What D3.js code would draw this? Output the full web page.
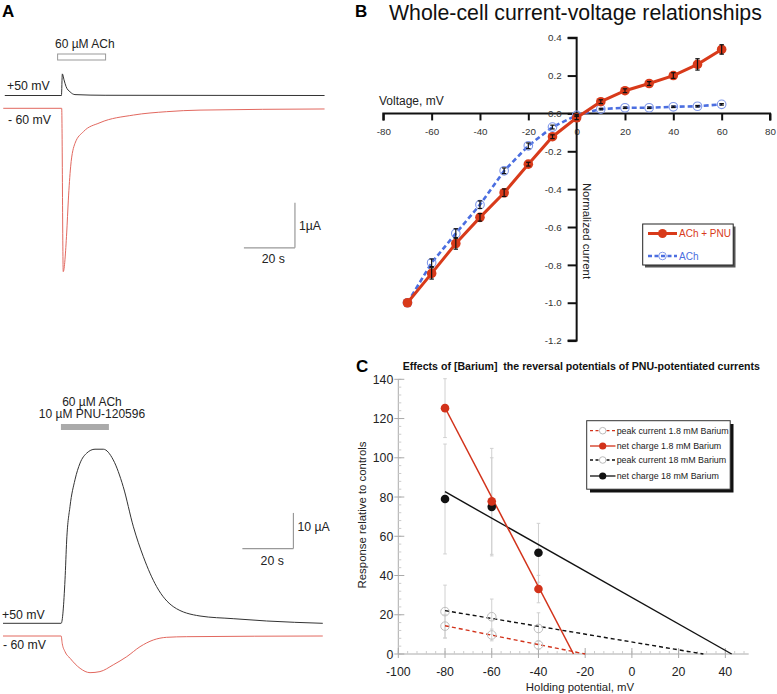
<!DOCTYPE html>
<html>
<head>
<meta charset="utf-8">
<script src="https://cdn.jsdelivr.net/npm/d3@7"></script>
<style>
  body { margin: 0; background: #fff; }
  text { font-family: "Liberation Sans", Arial, sans-serif; }
</style>
</head>
<body>
<script>
// ---- panel A traces: [time s, current µA relative to baseline]
const A1_POS50 = [[0.7, 0], [22.9, 0], [23.25, 0.48], [23.9, 0.35], [24.7, 0.2], [26.3, 0.08], [28.2, 0.02], [40, 0.005], [126, 0]];
const A1_NEG60 = [[0.1, 0], [23.0, 0], [23.6, -3.63], [24.96, -2.77], [25.6, -2.04], [26.5, -1.3], [28.2, -0.78], [31.5, -0.52], [38.0, -0.32], [51.1, -0.15], [64.1, -0.075], [77.2, -0.04], [126, -0.015]];
const A2_POS50 = [[0, 0], [22.8, 0], [24.3, 12.2], [24.96, 23.4], [26.25, 32.8], [28.2, 40.3], [30.2, 45.0], [32.8, 47.8], [36.05, 48.9], [39.3, 48.9], [43.2, 45.9], [47.1, 38.4], [51.1, 27.1], [55.0, 18.7], [60.2, 10.3], [66.7, 4.7], [77.2, 2.05], [90.2, 1.3], [103.3, 0.65], [125.3, 0]];
const A2_NEG60 = [[0, 0], [22.8, 0], [23.2, -2.06], [24.3, -4.4], [26.3, -6.27], [30.2, -9.08], [34.1, -10.3], [38.0, -10.0], [43.2, -8.1], [48.5, -5.8], [53.7, -3.0], [58.9, -1.12], [64.1, -0.37], [72.0, -0.19], [125.3, 0]];
const A1_DRUG = [21.4, 40.2];
const A2_DRUG = [22.7, 41.5];

// ---- panel B: I-V relationships
const IV_VOLTAGE = [-70, -60, -50, -40, -30, -20, -10, 0, 10, 20, 30, 40, 50, 60];
const IV_PNU = [-1.0, -0.845, -0.687, -0.549, -0.419, -0.268, -0.123, -0.023, 0.062, 0.12, 0.158, 0.2, 0.259, 0.338];
const IV_PNU_ERR = [0, 0.03, 0.03, 0.02, 0.02, 0.01, 0.01, 0.01, 0.01, 0.01, 0.01, 0.015, 0.03, 0.025];
const IV_ACH = [-1.0, -0.789, -0.634, -0.482, -0.303, -0.171, -0.072, -0.01, 0.023, 0.03, 0.03, 0.035, 0.038, 0.048];
const IV_ACH_ERR = [0, 0.02, 0.025, 0.02, 0.015, 0.015, 0.01, 0.005, 0.004, 0.004, 0.004, 0.004, 0.004, 0.004];
const B_X_TICKS = [-80, -60, -40, -20, 0, 20, 40, 60, 80];
const B_Y_TICKS = [0.4, 0.2, 0.0, -0.2, -0.4, -0.6, -0.8, -1.0, -1.2];

// ---- panel C: barium
const C_VOLTAGE = [-80, -60, -40];
const PEAK_1_8 = [14.2, 9.7, 4.6];
const PEAK_1_8_ERR = [6, 3, 2];
const NET_1_8 = [125.3, 77.8, 33.1];
const NET_1_8_ERR = [15, 27, 7];
const PEAK_18 = [21.6, 19, 13];
const PEAK_18_ERR = [13.5, 9, 8];
const NET_18 = [79, 75, 51.6];
const NET_18_ERR = [28, 25, 15];
const FIT_PEAK_1_8 = [[-80, 14.4], [-20, 0]];
const FIT_NET_1_8 = [[-80, 125.5], [-25, 0]];
const FIT_PEAK_18 = [[-80, 22.1], [30.6, 0]];
const FIT_NET_18 = [[-80, 82.7], [42.7, 0]];
const C_X_TICKS = [-100, -80, -60, -40, -20, 0, 20, 40];
const C_Y_TICKS = [0, 20, 40, 60, 80, 100, 120, 140];

const RED_A = "#e2685f";
const RED_B = "#d83a1a";
const BLUE_B = "#4b6ee0";
const RED_C = "#d2321a";

const SVG = d3.select("body").append("svg").attr("width", 777).attr("height", 694);

// ================= panel A =================
const T_SCALE = d3.scaleLinear().domain([0, 125]).range([3, 322]);
const yTrace = (base, pxPerUnit) => d3.scaleLinear().domain([0, 1]).range([base, base - pxPerUnit]);
const traceLine = (ys) => d3.line().x((d) => T_SCALE(d[0])).y((d) => ys(d[1])).curve(d3.curveMonotoneX);

SVG.append("text").attr("x", 2).attr("y", 17).attr("font-size", 17).attr("font-weight", "bold").text("A");

// top recording
const Y_A1_POS = yTrace(95.5, 45);
const Y_A1_NEG = yTrace(108.3, 45);
SVG.append("text").attr("x", 55).attr("y", 48).attr("font-size", 12).attr("fill", "#222").text("60 µM ACh");
SVG.append("rect")
  .attr("x", T_SCALE(A1_DRUG[0])).attr("y", 54)
  .attr("width", T_SCALE(A1_DRUG[1]) - T_SCALE(A1_DRUG[0])).attr("height", 6)
  .attr("fill", "none").attr("stroke", "#999").attr("stroke-width", 1);
SVG.append("path").attr("d", traceLine(Y_A1_POS)(A1_POS50)).attr("fill", "none").attr("stroke", "#333").attr("stroke-width", 1);
SVG.append("path").attr("d", traceLine(Y_A1_NEG)(A1_NEG60)).attr("fill", "none").attr("stroke", RED_A).attr("stroke-width", 1);
SVG.append("text").attr("x", 7).attr("y", 89.5).attr("font-size", 12.3).attr("fill", "#222").text("+50 mV");
SVG.append("text").attr("x", 8).attr("y", 123.5).attr("font-size", 12.3).attr("fill", "#222").text("- 60 mV");
// scale bar 20 s / 1 µA
{
  const t1 = 114.4, i0 = -3.1;
  const g = SVG.append("g").attr("stroke", "#999").attr("stroke-width", 1.2).attr("fill", "none");
  g.append("line").attr("x1", T_SCALE(t1 - 20)).attr("x2", T_SCALE(t1)).attr("y1", Y_A1_NEG(i0)).attr("y2", Y_A1_NEG(i0));
  g.append("line").attr("x1", T_SCALE(t1)).attr("x2", T_SCALE(t1)).attr("y1", Y_A1_NEG(i0)).attr("y2", Y_A1_NEG(i0 + 1));
  SVG.append("text").attr("x", T_SCALE(t1) + 4).attr("y", Y_A1_NEG(i0 + 0.4)).attr("font-size", 12.3).attr("fill", "#222").text("1µA");
  SVG.append("text").attr("x", T_SCALE(t1 - 8.5)).attr("y", Y_A1_NEG(i0) + 15).attr("text-anchor", "middle").attr("font-size", 12.3).attr("fill", "#222").text("20 s");
}

// bottom recording
const Y_A2_POS = yTrace(623.3, 3.56);
const Y_A2_NEG = yTrace(636, 3.56);
SVG.append("text").attr("x", 92).attr("y", 405.5).attr("text-anchor", "middle").attr("font-size", 12).attr("fill", "#222").text("60 µM ACh");
SVG.append("text").attr("x", 92).attr("y", 418).attr("text-anchor", "middle").attr("font-size", 12).attr("fill", "#222").text("10 µM PNU-120596");
SVG.append("rect")
  .attr("x", T_SCALE(A2_DRUG[0])).attr("y", 424)
  .attr("width", T_SCALE(A2_DRUG[1]) - T_SCALE(A2_DRUG[0])).attr("height", 6)
  .attr("fill", "#aaa");
SVG.append("path").attr("d", traceLine(Y_A2_POS)(A2_POS50)).attr("fill", "none").attr("stroke", "#333").attr("stroke-width", 1);
SVG.append("path").attr("d", traceLine(Y_A2_NEG)(A2_NEG60)).attr("fill", "none").attr("stroke", RED_A).attr("stroke-width", 1);
SVG.append("text").attr("x", 2).attr("y", 619).attr("font-size", 12.3).attr("fill", "#222").text("+50 mV");
SVG.append("text").attr("x", 3).attr("y", 649).attr("font-size", 12.3).attr("fill", "#222").text("- 60 mV");
{
  const t1 = 113.8, i0 = 21;
  const g = SVG.append("g").attr("stroke", "#999").attr("stroke-width", 1.2).attr("fill", "none");
  g.append("line").attr("x1", T_SCALE(t1 - 20)).attr("x2", T_SCALE(t1)).attr("y1", Y_A2_POS(i0)).attr("y2", Y_A2_POS(i0));
  g.append("line").attr("x1", T_SCALE(t1)).attr("x2", T_SCALE(t1)).attr("y1", Y_A2_POS(i0)).attr("y2", Y_A2_POS(i0 + 10));
  SVG.append("text").attr("x", T_SCALE(t1) + 4).attr("y", Y_A2_POS(i0 + 4.9)).attr("font-size", 12.3).attr("fill", "#222").text("10 µA");
  SVG.append("text").attr("x", T_SCALE(t1 - 8.3)).attr("y", Y_A2_POS(i0) + 16).attr("text-anchor", "middle").attr("font-size", 12.3).attr("fill", "#222").text("20 s");
}

// ================= panel B =================
const BX = d3.scaleLinear().domain([-80, 80]).range([383.3, 770]);
const BY = d3.scaleLinear().domain([-1.2, 0.4]).range([340.6, 37.7]);

SVG.append("text").attr("x", 355).attr("y", 17).attr("font-size", 17).attr("font-weight", "bold").text("B");
SVG.append("text").attr("x", 389).attr("y", 20).attr("font-size", 21.3).attr("fill", "#111").text("Whole-cell current-voltage relationships");

const B_X_AXIS = d3.axisBottom(BX).tickValues(B_X_TICKS).tickSize(7).tickPadding(8).tickFormat((d) => d.toString());
const B_Y_AXIS = d3.axisLeft(BY).tickValues(B_Y_TICKS).tickSize(9).tickPadding(6).tickFormat((d) => d.toFixed(1));

const bx = SVG.append("g").attr("transform", "translate(0," + BY(0) + ")").call(B_X_AXIS);
const by = SVG.append("g").attr("transform", "translate(" + BX(0) + ",0)").call(B_Y_AXIS);
[bx, by].forEach((g) => {
  g.selectAll("path.domain").attr("stroke", "#111").attr("stroke-width", 2);
  g.selectAll(".tick line").attr("stroke", "#111").attr("stroke-width", 2);
  g.selectAll(".tick text").attr("font-size", 9.8).attr("fill", "#333").attr("font-family", "Liberation Sans, Arial, sans-serif");
});
bx.select("path.domain").attr("d", "M" + BX(-80) + ",7V0H" + BX(80) + "V7");
by.select("path.domain").attr("d", "M-9," + BY(0.4) + "H0V" + BY(-1.2) + "H-9");

SVG.append("text").attr("x", 379).attr("y", 105).attr("font-size", 12).attr("fill", "#222").text("Voltage, mV");
SVG.append("text")
  .attr("transform", "translate(583," + 231 + ") rotate(90)")
  .attr("text-anchor", "middle").attr("font-size", 11.4).attr("fill", "#222").text("Normalized current");

const bLine = d3.line().x((d, i) => BX(IV_VOLTAGE[i])).y((d) => BY(d));

SVG.append("path").attr("d", bLine(IV_ACH)).attr("fill", "none")
  .attr("stroke", BLUE_B).attr("stroke-width", 2.6).attr("stroke-dasharray", "5,3");
SVG.append("g").selectAll("circle").data(IV_ACH).enter().append("circle")
  .attr("cx", (d, i) => BX(IV_VOLTAGE[i])).attr("cy", (d) => BY(d)).attr("r", 4.3)
  .attr("fill", "none").attr("stroke", "#7f97ea").attr("stroke-width", 1.1);

SVG.append("path").attr("d", bLine(IV_PNU)).attr("fill", "none")
  .attr("stroke", RED_B).attr("stroke-width", 3);
SVG.append("g").selectAll("circle").data(IV_PNU).enter().append("circle")
  .attr("cx", (d, i) => BX(IV_VOLTAGE[i])).attr("cy", (d) => BY(d)).attr("r", 4.8)
  .attr("fill", RED_B);

function errorBars(parent, xs, ys, errs, xScale, yScale, color, cap, width) {
  const g = parent.append("g").attr("stroke", color).attr("stroke-width", width).attr("fill", "none");
  ys.forEach((v, i) => {
    if (!errs[i]) return;
    const x = xScale(xs[i]);
    const y1 = yScale(v - errs[i]);
    const y2 = yScale(v + errs[i]);
    g.append("line").attr("x1", x).attr("x2", x).attr("y1", y1).attr("y2", y2);
    g.append("line").attr("x1", x - cap).attr("x2", x + cap).attr("y1", y1).attr("y2", y1);
    g.append("line").attr("x1", x - cap).attr("x2", x + cap).attr("y1", y2).attr("y2", y2);
  });
}
errorBars(SVG, IV_VOLTAGE, IV_ACH, IV_ACH_ERR, BX, BY, "#111", 2.2, 1.2);
errorBars(SVG, IV_VOLTAGE, IV_PNU, IV_PNU_ERR, BX, BY, "#111", 2.2, 1.2);

// legend B
{
  const LEG = [
    { label: "ACh + PNU", color: RED_B, dash: null, filled: true },
    { label: "ACh", color: BLUE_B, dash: "4,2.5", filled: false }
  ];
  const g = SVG.append("g");
  g.append("rect").attr("x", 645).attr("y", 226.5).attr("width", 90.5).attr("height", 41).attr("fill", "#555");
  g.append("rect").attr("x", 642.7).attr("y", 224).attr("width", 90.5).attr("height", 41).attr("fill", "#fff").attr("stroke", "#222").attr("stroke-width", 1);
  LEG.forEach((d, i) => {
    const y = 233.5 + i * 22.5;
    g.append("line").attr("x1", 648).attr("x2", 677).attr("y1", y).attr("y2", y)
      .attr("stroke", d.color).attr("stroke-width", d.filled ? 3 : 2.4).attr("stroke-dasharray", d.dash);
    g.append("circle").attr("cx", 662.5).attr("cy", y).attr("r", d.filled ? 4.5 : 3.8)
      .attr("fill", d.filled ? d.color : "none").attr("stroke", d.filled ? "none" : "#7f97ea").attr("stroke-width", 1);
    g.append("text").attr("x", 679).attr("y", y + 3.5).attr("font-size", 10).attr("fill", d.color).text(d.label);
  });
}

// ================= panel C =================
const CX = d3.scaleLinear().domain([-100, 50]).range([398.3, 748.7]);
const CY = d3.scaleLinear().domain([0, 140]).range([654, 379.3]);

SVG.append("text").attr("x", 356).attr("y", 372).attr("font-size", 17).attr("font-weight", "bold").text("C");
SVG.append("text").attr("x", 402.7).attr("y", 369.5).attr("font-size", 10.6).attr("font-weight", "bold").attr("fill", "#111")
  .style("white-space", "pre")
  .text("Effects of [Barium]  the reversal potentials of PNU-potentiated currents");

// axes (light gray, with minor ticks)
{
  const g = SVG.append("g").attr("stroke", "#aaa").attr("stroke-width", 1).attr("fill", "none");
  g.append("line").attr("x1", CX(-100)).attr("x2", CX(-100)).attr("y1", CY(0)).attr("y2", CY(140));
  g.append("line").attr("x1", CX(-100)).attr("x2", CX(50)).attr("y1", CY(0)).attr("y2", CY(0));
  d3.range(0, 141, 4).forEach((v) => {
    g.append("line").attr("x1", CX(-100)).attr("x2", CX(-100) + 3).attr("y1", CY(v)).attr("y2", CY(v)).attr("stroke", "#ccc");
  });
  d3.range(-100, 50, 4).forEach((v) => {
    g.append("line").attr("x1", CX(v)).attr("x2", CX(v)).attr("y1", CY(0)).attr("y2", CY(0) - 3).attr("stroke", "#ccc");
  });
  C_Y_TICKS.forEach((v) => {
    g.append("line").attr("x1", CX(-100) - 4).attr("x2", CX(-100) + 6).attr("y1", CY(v)).attr("y2", CY(v));
  });
  C_X_TICKS.forEach((v) => {
    g.append("line").attr("x1", CX(v)).attr("x2", CX(v)).attr("y1", CY(0) + 4).attr("y2", CY(0) - 6);
  });
}
SVG.append("g").selectAll("text").data(C_Y_TICKS).enter().append("text")
  .attr("x", CX(-100) - 5).attr("y", (d) => CY(d) + 4.5)
  .attr("text-anchor", "end").attr("font-size", 12.3).attr("fill", "#222").text((d) => d);
SVG.append("g").selectAll("text").data(C_X_TICKS).enter().append("text")
  .attr("x", (d) => CX(d)).attr("y", CY(0) + 22)
  .attr("text-anchor", "middle").attr("font-size", 12.3).attr("fill", "#222").text((d) => d);
SVG.append("text").attr("x", 580).attr("y", 691).attr("text-anchor", "middle").attr("font-size", 11.4).attr("fill", "#222").text("Holding potential, mV");
SVG.append("text").attr("transform", "translate(365.5,515) rotate(-90)")
  .attr("text-anchor", "middle").attr("font-size", 11.4).attr("fill", "#222").text("Response relative to controls");

// error bars (light gray)
[
  [PEAK_1_8, PEAK_1_8_ERR],
  [NET_1_8, NET_1_8_ERR],
  [PEAK_18, PEAK_18_ERR],
  [NET_18, NET_18_ERR]
].forEach(([vals, errs]) => errorBars(SVG, C_VOLTAGE, vals, errs, CX, CY, "#d0d0d0", 1.8, 1));

const fitLine = d3.line().x((d) => CX(d[0])).y((d) => CY(d[1]));
SVG.append("path").attr("d", fitLine(FIT_PEAK_18)).attr("fill", "none").attr("stroke", "#111").attr("stroke-width", 1.4).attr("stroke-dasharray", "4,3");
SVG.append("path").attr("d", fitLine(FIT_PEAK_1_8)).attr("fill", "none").attr("stroke", RED_C).attr("stroke-width", 1.4).attr("stroke-dasharray", "4,3");
SVG.append("path").attr("d", fitLine(FIT_NET_18)).attr("fill", "none").attr("stroke", "#111").attr("stroke-width", 1.4);
SVG.append("path").attr("d", fitLine(FIT_NET_1_8)).attr("fill", "none").attr("stroke", RED_C).attr("stroke-width", 1.5);

function cMarkers(vals, filled, color) {
  SVG.append("g").selectAll("circle").data(vals).enter().append("circle")
    .attr("cx", (d, i) => CX(C_VOLTAGE[i])).attr("cy", (d) => CY(d)).attr("r", 4.3)
    .attr("fill", filled ? color : "none").attr("stroke", filled ? "none" : "#bdbdbd").attr("stroke-width", 1);
}
cMarkers(PEAK_1_8, false);
cMarkers(PEAK_18, false);
cMarkers(NET_18, true, "#111");
cMarkers(NET_1_8, true, RED_C);

// legend C
{
  const LEG = [
    { label: "peak current 1.8 mM Barium", color: RED_C, dash: "3,2.5", filled: false },
    { label: "net charge 1.8 mM Barium", color: RED_C, dash: null, filled: true },
    { label: "peak current 18 mM Barium", color: "#111", dash: "3,2.5", filled: false },
    { label: "net charge 18 mM Barium", color: "#111", dash: null, filled: true }
  ];
  const ROW_Y = [430.7, 446, 460, 476];
  const g = SVG.append("g");
  g.append("rect").attr("x", 590).attr("y", 424).attr("width", 143.5).attr("height", 68.5).attr("fill", "#111");
  g.append("rect").attr("x", 586.7).attr("y", 420.7).attr("width", 143.5).attr("height", 68.5).attr("fill", "#fff").attr("stroke", "#333").attr("stroke-width", 1);
  LEG.forEach((d, i) => {
    const y = ROW_Y[i];
    g.append("line").attr("x1", 590).attr("x2", 615.5).attr("y1", y).attr("y2", y)
      .attr("stroke", d.color).attr("stroke-width", 1.3).attr("stroke-dasharray", d.dash);
    g.append("circle").attr("cx", 602.7).attr("cy", y).attr("r", d.filled ? 3.6 : 3.3)
      .attr("fill", d.filled ? d.color : "#fff").attr("stroke", d.filled ? "none" : "#bbb").attr("stroke-width", 1);
    g.append("text").attr("x", 616.7).attr("y", y + 3.2).attr("font-size", 8.9).attr("fill", "#222").text(d.label);
  });
}
</script>
</body>
</html>
